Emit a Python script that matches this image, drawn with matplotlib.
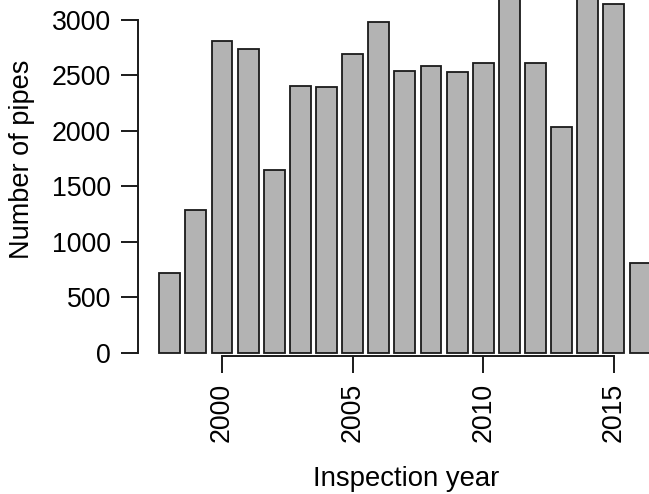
import numpy as np
import matplotlib
matplotlib.use("Agg")
import matplotlib.pyplot as plt

plt.rcParams['font.family'] = ['Liberation Sans', 'DejaVu Sans']

#%% data (2011 and 2014 run past the top edge)
years = np.arange(1998, 2017)
pipes = [715, 1285, 2810, 2735, 1650, 2405, 2395, 2690, 2980, 2540,
         2585, 2530, 2610, 3400, 2610, 2035, 3400, 3140, 810]
yticks = [0, 500, 1000, 1500, 2000, 2500, 3000]
xticks = [2000, 2005, 2010, 2015]

#%%
W, H = 649, 494
fig = plt.figure(figsize=(W / 100, H / 100), dpi=100)
# plot region runs past the right and top edges, as in the cropped original
left, right, bottom, top = 138, 674, 356, -38
ax = fig.add_axes([left / W, (H - bottom) / H, (right - left) / W, (bottom - top) / H])

ax.bar(years, pipes, width=0.8, color='#B3B3B3', edgecolor='#1a1a1a', linewidth=1.3)

ax.set_xlim(1996.785, 2017.30)
ax.set_ylim(-30, 3520)

for s in ['top', 'right']:
    ax.spines[s].set_visible(False)
ax.spines['left'].set_bounds(0, 3000)
ax.spines['bottom'].set_bounds(2000, 2015)
for s in ['left', 'bottom']:
    ax.spines[s].set_linewidth(1.4)
    ax.spines[s].set_color('#1a1a1a')

ax.set_yticks(yticks)
ax.set_xticks(xticks)
ax.set_xticklabels([str(x) for x in xticks], rotation=90)
ax.tick_params(direction='out', length=12.2, width=1.4, color='#1a1a1a',
               labelsize=19.3, pad=7.2)

ax.set_ylabel("Number of pipes", fontsize=19.5)
ax.yaxis.set_label_coords(-0.193, 0.5)
ax.set_xlabel("Inspection year", fontsize=19.8, va='top')
ax.xaxis.set_label_coords(0.5, -0.279)

fig.savefig("out.png", dpi=100)
